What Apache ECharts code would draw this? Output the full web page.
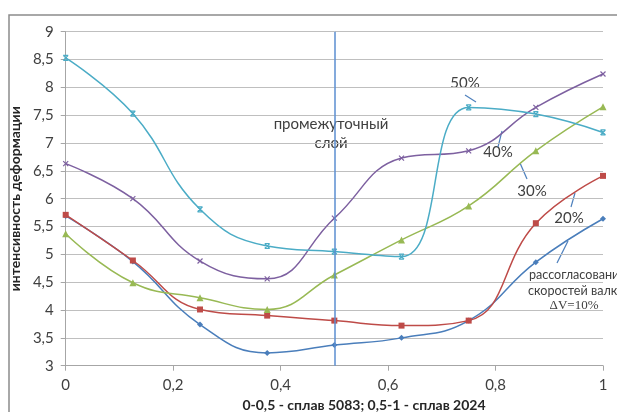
<!DOCTYPE html>
<html lang="ru">
<head>
    <meta charset="UTF-8">
    <title>интенсивность деформации</title>
    <script src="https://cdn.jsdelivr.net/npm/echarts@6/dist/echarts.min.js"></script>
</head>
<body style="margin: 0">
<div id="chart" style="width: 617px;height: 412px"></div>
<script>
    // x positions across the strip: 0-0,5 alloy 5083, 0,5-1 alloy 2024
    let xs = [0, 0.125, 0.25, 0.375, 0.5, 0.625, 0.75, 0.875, 1];
    let v10 = [5.69, 4.87, 3.74, 3.23, 3.37, 3.5, 3.81, 4.86, 5.64];
    let v20 = [5.71, 4.89, 4.01, 3.9, 3.81, 3.72, 3.81, 5.56, 6.41];
    let v30 = [5.37, 4.49, 4.22, 4.01, 4.63, 5.26, 5.87, 6.86, 7.65];
    let v40 = [6.63, 6.0, 4.88, 4.56, 5.65, 6.73, 6.86, 7.64, 8.24];
    let v50 = [8.53, 7.53, 5.81, 5.15, 5.05, 4.96, 7.64, 7.52, 7.19];
    let layerX = 0.5;

    let chart = echarts.init(document.getElementById('chart'));

    function pairs(ys) {
        return xs.map((x, i) => [x, ys[i]]);
    }
    function comma(v) {
        return String(v).replace('.', ',');
    }

    let txt = '#404040';
    let font = 'Lato';
    let leader = '#4F81BD';

    function mkSeries(name, data, color, symbol, size) {
        return {
            name: name,
            type: 'line',
            data: pairs(data),
            smooth: 0.45,
            symbol: symbol,
            symbolSize: size,
            lineStyle: { color: color, width: 1.5 },
            itemStyle: { color: color },
            z: 3
        };
    }

    let series = [
        mkSeries('10%', v10, '#4A7EBB', 'diamond', 6),
        mkSeries('20%', v20, '#BE4B48', 'rect', 6),
        mkSeries('30%', v30, '#98B954', 'triangle', 7),
        mkSeries('40%', v40, '#7D60A0', 'path://M0,0L10,10M10,0L0,10', 5),
        mkSeries('50%', v50, '#4BACC6', 'path://M0,0L10,10M10,0L0,10M0,0L10,0M0,10L10,10', 5)
    ];
    series[3].itemStyle = { color: '#7D60A0', borderColor: '#7D60A0', borderWidth: 1.2 };
    series[4].itemStyle = { color: '#4BACC6', borderColor: '#4BACC6', borderWidth: 1.2 };
    series[0].markLine = {
        silent: true,
        symbol: 'none',
        label: { show: false },
        lineStyle: { color: '#5B8ED0', width: 1.5, type: 'solid' },
        data: [{ xAxis: layerX }]
    };

    function line(x1, y1, x2, y2) {
        return {
            type: 'line',
            shape: { x1: x1, y1: y1, x2: x2, y2: y2 },
            style: { stroke: leader, lineWidth: 1.2 }
        };
    }
    function label(text, x, y, opts, extra) {
        return Object.assign({
            type: 'text',
            x: x, y: y,
            style: Object.assign({
                text: text,
                fill: txt,
                font: '14px "' + font + '"',
                align: 'center',
                verticalAlign: 'middle'
            }, opts || {})
        }, extra || {});
    }

    let option = {
        animation: false,
        backgroundColor: '#fff',
        grid: { left: 65, right: 14, top: 31.7, bottom: 46.3 },
        xAxis: {
            type: 'value',
            min: 0, max: 1, interval: 0.2,
            axisLine: { lineStyle: { color: '#a6a6a6' } },
            axisTick: { show: true, length: 5, lineStyle: { color: '#a6a6a6' } },
            axisLabel: {
                formatter: comma, color: txt, fontSize: 15, fontFamily: font, margin: 12
            },
            splitLine: { show: false }
        },
        yAxis: {
            type: 'value',
            min: 3, max: 9, interval: 0.5,
            name: 'интенсивность деформации',
            nameLocation: 'middle',
            nameGap: 40,
            nameTextStyle: { color: '#262626', fontSize: 14, fontWeight: 'bold', fontFamily: font },
            axisLine: { show: true, lineStyle: { color: '#a6a6a6' } },
            axisTick: { show: true, length: 5, lineStyle: { color: '#a6a6a6' } },
            axisLabel: {
                formatter: comma, color: txt, fontSize: 15, fontFamily: font, margin: 12
            },
            splitLine: { lineStyle: { color: '#bfbfbf', width: 1 } }
        },
        series: series,
        graphic: [
            {
                type: 'rect',
                shape: { x: 9, y: 15, width: 640, height: 420 },
                style: { fill: 'none', stroke: '#8c8c8c', lineWidth: 1.5 },
                silent: true
            },
            label('0-0,5 - сплав 5083; 0,5-1 - сплав 2024', 364, 405,
                { font: 'bold 14px "' + font + '"', fill: '#262626' }),
            label('промежуточный', 331, 124, { font: '15px "' + font + '"' }),
            label('слой', 331, 143, { font: '15px "' + font + '"' }),
            label('50%', 465, 83, { font: '15px "' + font + '"' }),
            label('40%', 498, 152, { font: '15px "' + font + '"' }),
            label('30%', 532, 191, { font: '15px "' + font + '"' }),
            label('20%', 569, 218, { font: '15px "' + font + '"' }),
            label('рассогласование', 529, 274, { align: 'left' }, { scaleX: 0.9 }),
            label('скоростей валков', 528, 290, { align: 'left' }, { scaleX: 0.9 }),
            label('ΔV=10%', 574, 306, { font: '13px "Liberation Serif"' }),
            line(465, 95, 476, 102),
            line(502, 131, 498, 147),
            line(520, 163, 527, 179),
            line(575, 193, 571, 207),
            line(568, 241, 557, 263)
        ]
    };

    chart.setOption(option);
</script>
</body>
</html>
